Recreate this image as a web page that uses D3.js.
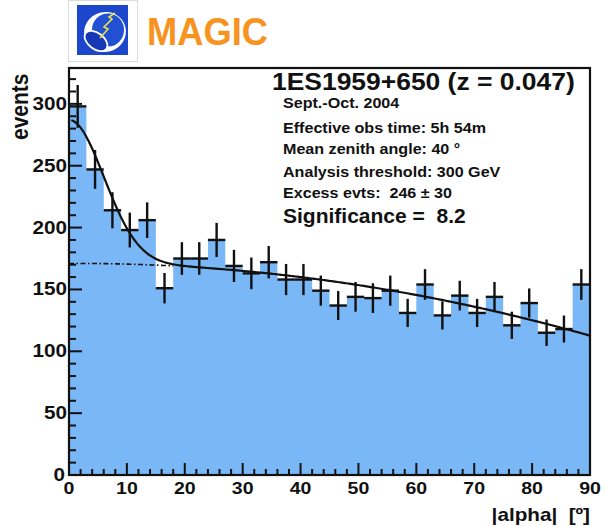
<!DOCTYPE html>
<html>
<head>
<meta charset="utf-8">
<script src="https://cdn.jsdelivr.net/npm/d3@7"></script>
<style>
  html, body { margin: 0; padding: 0; background: #fff; }
  svg { display: block; }
  text { font-family: "Liberation Sans", Arial, Helvetica, sans-serif; font-weight: bold; fill: #111; white-space: pre; }
</style>
</head>
<body>
<svg id="chart" width="605" height="526"></svg>
<script>
// |alpha| distribution, 3-degree bins from 0 to 90
const binEdges = d3.range(0, 91, 3);
const counts = [298, 247, 214, 198, 206, 151, 175, 175, 190, 169,
                163, 172, 158, 158, 149, 137, 144, 143, 149, 131,
                154, 129, 145, 131, 144, 121, 139, 115, 118, 154];
const errors = [17.3, 15.7, 14.6, 14.1, 14.4, 12.3, 13.2, 13.2, 13.8, 13.0,
                12.8, 13.1, 12.6, 12.6, 12.2, 11.7, 12.0, 12.0, 12.2, 11.4,
                12.4, 11.4, 12.0, 11.4, 12.0, 11.0, 11.8, 10.7, 10.9, 12.4];

// Fit: Gaussian signal at alpha = 0 on top of a 2nd-order polynomial background
const bgCoeffs = [171, 0.023, -0.00746];
const gaussAmp = 116, gaussSigma = 6.0;

const xTicks = d3.range(0, 91, 10);
const yTicks = d3.range(0, 301, 50);

const infoLines = [
  "Sept.-Oct. 2004",
  "Effective obs time: 5h 54m",
  "Mean zenith angle: 40 \u00B0",
  "Analysis threshold: 300 GeV",
  "Excess evts:  246 \u00B1 30"
];
const titleText = "1ES1959+650 (z = 0.047)";
const signifText = "Significance =  8.2";

const bg = a => bgCoeffs[0] + bgCoeffs[1] * a + bgCoeffs[2] * a * a;
const total = a => bg(a) + gaussAmp * Math.exp(-a * a / (2 * gaussSigma * gaussSigma));

const svg = d3.select("#chart");
const x = d3.scaleLinear().domain([0, 90]).range([69, 590]);
const y = d3.scaleLinear().domain([0, 329]).range([475, 68]);
const SX = 1.15; // horizontal stretch of chart lettering

// ---- MAGIC logo ----
const logo = svg.append("g");
logo.append("rect").attr("x", 68.5).attr("y", 0.5).attr("width", 69).attr("height", 61)
  .attr("fill", "#fff").attr("stroke", "#dcdcdc");
logo.append("rect").attr("x", 77).attr("y", 5).attr("width", 51).attr("height", 50).attr("fill", "#1c46cc");
logo.append("ellipse").attr("cx", 105).attr("cy", 32).attr("rx", 21).attr("ry", 20)
  .attr("transform", "rotate(-15,105,32)").attr("fill", "#fff");
logo.append("ellipse").attr("cx", 108).attr("cy", 30).attr("rx", 16).attr("ry", 16.5)
  .attr("fill", "#2150d2");
logo.append("ellipse").attr("cx", 96).attr("cy", 41).attr("rx", 13).attr("ry", 8)
  .attr("transform", "rotate(38,96,41)").attr("fill", "#1638b4").attr("stroke", "#fff").attr("stroke-width", 1.8);
logo.append("polyline").attr("points", "100,38 108,29 104,27 112,19 109,17 115,13")
  .attr("fill", "none").attr("stroke", "#e6e24a").attr("stroke-width", 1.6);
svg.append("text").attr("x", 147).attr("y", 45).text("MAGIC")
  .attr("font-size", 38).attr("textLength", 121).attr("lengthAdjust", "spacingAndGlyphs")
  .style("fill", "#f7931e");

// ---- histogram (single filled step outline, no seams between bins) ----
const bins = counts.map((c, i) => ({ x0: binEdges[i], x1: binEdges[i + 1], c, e: errors[i] }));
const stepPts = bins.map(d => [d.x0, d.c]).concat([[binEdges[binEdges.length - 1], counts[counts.length - 1]]]);
const area = d3.area().x(d => x(d[0])).y0(y(0)).y1(d => y(d[1])).curve(d3.curveStepAfter);
svg.append("path").attr("d", area(stepPts)).attr("fill", "#79b7f6");

// ---- error crosses ----
const cross = svg.append("g").attr("stroke", "#111").attr("stroke-width", 2.4);
cross.selectAll("line.h").data(bins).join("line").attr("class", "h")
  .attr("x1", d => x(d.x0)).attr("x2", d => x(d.x1))
  .attr("y1", d => y(d.c)).attr("y2", d => y(d.c));
cross.selectAll("line.v").data(bins).join("line").attr("class", "v")
  .attr("x1", d => x((d.x0 + d.x1) / 2)).attr("x2", d => x((d.x0 + d.x1) / 2))
  .attr("y1", d => y(d.c + d.e)).attr("y2", d => y(d.c - d.e));

// ---- fit curves ----
const line = d3.line().x(d => x(d[0])).y(d => y(d[1]));
const bgPts = d3.range(0, 18.01, 0.25).map(a => [a, bg(a)]);
svg.append("path").attr("d", line(bgPts)).attr("fill", "none")
  .attr("stroke", "#111").attr("stroke-width", 1.6).attr("stroke-dasharray", "5,2.5,1.5,2.5");
const totPts = d3.range(0.4, 90.01, 0.25).map(a => [a, total(a)]);
svg.append("path").attr("d", line(totPts)).attr("fill", "none")
  .attr("stroke", "#111").attr("stroke-width", 2.2);

// ---- frame ----
svg.append("rect").attr("x", x(0)).attr("y", y(329)).attr("width", x(90) - x(0)).attr("height", y(0) - y(329))
  .attr("fill", "none").attr("stroke", "#111").attr("stroke-width", 2.2);

// ---- y axis ticks (inside) ----
const yAxisG = svg.append("g").attr("stroke", "#111").attr("stroke-width", 2);
yAxisG.selectAll("line").data(d3.range(0, 321, 10)).join("line")
  .attr("x1", x(0)).attr("x2", d => x(0) + (d % 50 === 0 ? 13 : 7))
  .attr("y1", d => y(d)).attr("y2", d => y(d));
svg.append("g").selectAll("text").data(yTicks).join("text")
  .attr("transform", d => `translate(${d === 0 ? 65 : 67},${y(d) + 6}) scale(${SX},1)`)
  .attr("text-anchor", "end").attr("font-size", 18).text(d => d);

// ---- x axis ticks (inside) ----
const xAxisG = svg.append("g").attr("stroke", "#111").attr("stroke-width", 2);
xAxisG.selectAll("line").data(d3.range(0, 90.01, 2)).join("line")
  .attr("x1", d => x(d)).attr("x2", d => x(d))
  .attr("y1", y(0)).attr("y2", d => y(0) - (d % 10 === 0 ? 12 : 6));
svg.append("g").selectAll("text").data(xTicks).join("text")
  .attr("transform", d => `translate(${x(d)},494) scale(${SX},1)`)
  .attr("text-anchor", "middle").attr("font-size", 17).text(d => d);

// ---- axis titles ----
svg.append("text").attr("transform", `translate(28,140) rotate(-90) scale(1,${SX})`)
  .attr("font-size", 21).text("events");
svg.append("text").attr("transform", `translate(590,521) scale(${SX},1)`)
  .attr("text-anchor", "end").attr("font-size", 18).text("|alpha|  [\u00BA]");

// ---- info block ----
svg.append("text").attr("transform", `translate(272,90) scale(${SX},1)`)
  .attr("font-size", 23).text(titleText);
const infoY = [108, 132.7, 154.3, 176.7, 198.3];
svg.append("g").selectAll("text").data(infoLines).join("text")
  .attr("transform", (d, i) => `translate(283,${infoY[i]}) scale(${SX},1)`)
  .attr("font-size", 14).text(d => d);
svg.append("text").attr("transform", `translate(283,223)`)
  .attr("font-size", 21).text(signifText);
</script>
</body>
</html>
